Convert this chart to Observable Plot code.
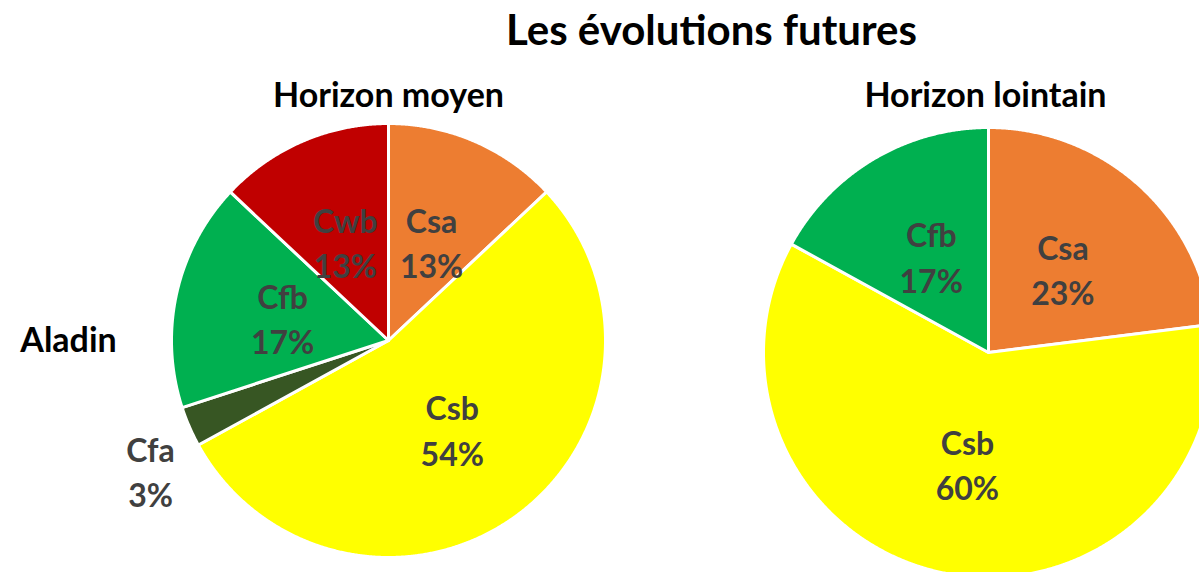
<!DOCTYPE html>
<html><head><meta charset="utf-8">
<script src="https://cdn.jsdelivr.net/npm/d3@7"></script>
<script src="https://cdn.jsdelivr.net/npm/@observablehq/plot@0.6"></script>
<style>html,body{margin:0;padding:0;background:#fff;overflow:hidden;}</style>
</head><body><div id="chart"></div>
<script>
// ---- data ----
const chartTitle = "Les évolutions futures";
const rowLabel = "Aladin";
const panelTitles = ["Horizon moyen", "Horizon lointain"];
const climateClasses = ["Csa", "Csb", "Cfa", "Cfb", "Cwb"];
const classColors = ["#ED7D31", "#FFFF00", "#375623", "#00B050", "#C00000"];
const moyenClasses = ["Csa", "Csb", "Cfa", "Cfb", "Cwb"];
const moyenValues = [13, 54, 3, 17, 13];
const lointainClasses = ["Csa", "Csb", "Cfb"];
const lointainValues = [23, 60, 17];

// ---- layout ----
const W = 1199, H = 572;
const pies = [
  {name: panelTitles[0], classes: moyenClasses, values: moyenValues, cx: 388, cy: 340, r: 217, titleX: 388,
   outside: {"Cfa": {f: 1.25, dx: 11, dy: 22}}},
  {name: panelTitles[1], classes: lointainClasses, values: lointainValues, cx: 988, cy: 352, r: 225, titleX: 985, outside: {}}
];

const sliceRows = [];
const labelRows = [];
for (const p of pies) {
  const arcs = d3.pie().sort(null).value(d => d)(p.values);
  arcs.forEach((a, i) => {
    const cls = p.classes[i];
    const key = p.name + "|" + cls;
    sliceRows.push({key, cls, x: p.cx, y: p.cy});
    const n = Math.max(2, Math.ceil((a.endAngle - a.startAngle) / 0.005));
    for (let k = 0; k <= n; k++) {
      const t = a.startAngle + (a.endAngle - a.startAngle) * k / n;
      sliceRows.push({key, cls, x: p.cx + p.r * Math.sin(t), y: p.cy - p.r * Math.cos(t)});
    }
    const mid = (a.startAngle + a.endAngle) / 2;
    const o = p.outside[cls] ?? {f: 0.5, dx: 0, dy: 0};
    labelRows.push({x: p.cx + o.f * p.r * Math.sin(mid) + o.dx, y: p.cy - o.f * p.r * Math.cos(mid) + o.dy, text: cls + "\n" + p.values[i] + "%"});
  });
}

const titleRows = [
  {x: 711, y: 31, text: chartTitle, size: 42},
  {x: pies[0].titleX, y: 96, text: pies[0].name, size: 34},
  {x: pies[1].titleX, y: 96, text: pies[1].name, size: 34},
  {x: 68, y: 341, text: rowLabel, size: 34}
];

const font = "Lato, 'Open Sans', sans-serif";
const chart = Plot.plot({
  width: W, height: H,
  margin: 0,
  style: {fontFamily: font, background: "#fff", overflow: "hidden"},
  x: {domain: [0, W], range: [0, W], axis: null},
  y: {domain: [0, H], range: [0, H], axis: null},
  color: {domain: climateClasses, range: classColors},
  marks: [
    Plot.line(sliceRows, {x: "x", y: "y", z: "key", fill: "cls", stroke: "white", strokeWidth: 3, strokeLinejoin: "round", curve: "linear-closed", clip: true}),
    Plot.text(labelRows, {x: "x", y: "y", text: "text", fill: "#404040", fontSize: 32, fontWeight: "bold", lineHeight: 1.42}),
    Plot.text(titleRows.filter(d => d.size > 38), {x: "x", y: "y", text: "text", fill: "#000", fontSize: 42, fontWeight: "bold"}),
    Plot.text(titleRows.filter(d => d.size <= 38), {x: "x", y: "y", text: "text", fill: "#000", fontSize: 34, fontWeight: "bold"})
  ]
});
document.getElementById("chart").append(chart);
</script>
</body></html>
